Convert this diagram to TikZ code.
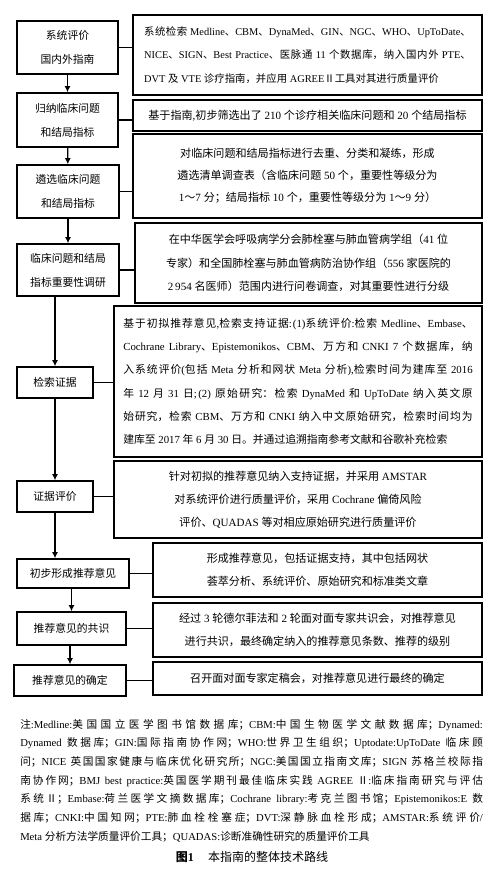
\documentclass[tikz,border=0pt]{standalone}
\usepackage{fontspec}
\setmainfont{Liberation Serif}
\newfontfamily\cjkfont{Noto Sans CJK SC}
\usetikzlibrary{arrows.meta}

\XeTeXinterchartokenstate=1
\chardef\cjkclass=10
\newcount\cjkcode
\def\setcjkrange#1#2{\cjkcode=#1
  \loop\XeTeXcharclass\cjkcode=\cjkclass\advance\cjkcode by 1
  \ifnum\cjkcode<#2\repeat}
\setcjkrange{"2E80}{"A000}
\setcjkrange{"F900}{"FB00}
\setcjkrange{"FF00}{"FFF0}
\setcjkrange{"2160}{"2180}
\XeTeXinterchartoks 0 \cjkclass = {\cjkfont}
\XeTeXinterchartoks 4095 \cjkclass = {\cjkfont}
\XeTeXinterchartoks \cjkclass 0 = {\rmfamily}
\XeTeXinterchartoks \cjkclass 4095 = {\rmfamily}
\XeTeXlinebreaklocale "zh"
\XeTeXlinebreakskip=0pt plus 1pt

\begin{document}
\begin{tikzpicture}[x=0.75pt, y=-0.75pt,
    lbox/.style={draw, line width=1.2pt, align=center, inner sep=0pt, font=\fontsize{8.1pt}{18pt}\selectfont},
    rbox/.style={draw, line width=1.5pt, align=center, inner sep=0pt, font=\fontsize{8.3pt}{17.4pt}\selectfont},
    bsize/.style 2 args={minimum width=#1*0.75pt, minimum height=#2*0.75pt},
    link/.style={line width=0.8pt},
    flow/.style={line width=0.9pt, -{Latex[length=4.5pt,width=4.5pt]}}]
    \useasboundingbox (0,0) rectangle (496,882);
    % steps on the left
    \node[lbox, bsize={101}{53}] (review) at (67.5,47.5) {系统评价\\国内外指南};
    \node[lbox, bsize={101}{54}] (collect) at (67.5,120) {归纳临床问题\\和结局指标};
    \node[lbox, bsize={102}{53}] (select) at (68,191.5) {遴选临床问题\\和结局指标};
    \node[lbox, bsize={102}{52}] (survey) at (68,270) {临床问题和结局\\指标重要性调研};
    \node[lbox, bsize={76}{31}] (search) at (55,382.5) {检索证据};
    \node[lbox, bsize={76}{31}] (appraise) at (55,496.5) {证据评价};
    \node[lbox, bsize={112}{29}] (draft) at (73,573.5) {初步形成推荐意见};
    \node[lbox, bsize={109}{33}] (consensus) at (71.5,628.5) {推荐意见的共识};
    \node[lbox, bsize={112}{31}] (finalize) at (70,680.5) {推荐意见的确定};
    % details on the right
    \node[rbox, bsize={349}{80}, text width=245pt, align=justify, font=\fontsize{7.8pt}{17.6pt}\selectfont] (reviewR) at (307.5,55)
        {系统检索 Medline、CBM、DynaMed、GIN、NGC、WHO、UpToDate、\linebreak
         NICE、SIGN、Best Practice、医脉通 11 个数据库，纳入国内外 PTE、\linebreak
         DVT 及 VTE 诊疗指南，并应用 AGREEⅡ工具对其进行质量评价};
    \node[rbox, bsize={349}{31}] (collectR) at (307.5,115.5) {基于指南,初步筛选出了 210 个诊疗相关临床问题和 20 个结局指标};
    \node[rbox, bsize={349}{84}, font=\fontsize{8.3pt}{16.5pt}\selectfont] (selectR) at (307.5,176)
        {对临床问题和结局指标进行去重、分类和凝练，形成\\
         遴选清单调查表（含临床问题 50 个，重要性等级分为\\
         1～7 分；结局指标 10 个，重要性等级分为 1～9 分）};
    \node[rbox, bsize={347}{80}] (surveyR) at (308.5,263)
        {在中华医学会呼吸病学分会肺栓塞与肺血管病学组（41 位\\
         专家）和全国肺栓塞与肺血管病防治协作组（556 家医院的\\
         2\,954 名医师）范围内进行问卷调查，对其重要性进行分级};
    \node[rbox, bsize={368}{151}, text width=262pt, align=justify, font=\fontsize{8.1pt}{17.5pt}\selectfont] (searchR) at (298,381.5)
        {基于初拟推荐意见,检索支持证据:(1)系统评价:检索 Medline、Embase、\linebreak
         Cochrane Library、Epistemonikos、CBM、万方和 CNKI 7 个数据库，纳\linebreak
         入系统评价(包括 Meta 分析和网状 Meta 分析),检索时间为建库至 2016\linebreak
         年 12 月 31 日;(2) 原始研究：检索 DynaMed 和 UpToDate 纳入英文原\linebreak
         始研究，检索 CBM、万方和 CNKI 纳入中文原始研究，检索时间均为\linebreak
         建库至 2017 年 6 月 30 日。并通过追溯指南参考文献和谷歌补充检索};
    \node[rbox, bsize={368}{77}, font=\fontsize{8.3pt}{17.2pt}\selectfont] (appraiseR) at (298,499.5)
        {针对初拟的推荐意见纳入支持证据，并采用 AMSTAR\\
         对系统评价进行质量评价，采用 Cochrane 偏倚风险\\
         评价、QUADAS 等对相应原始研究进行质量评价};
    \node[rbox, bsize={329}{54}] (draftR) at (317.5,570)
        {形成推荐意见，包括证据支持，其中包括网状\\
         荟萃分析、系统评价、原始研究和标准类文章};
    \node[rbox, bsize={329}{54}] (consensusR) at (317.5,630)
        {经过 3 轮德尔菲法和 2 轮面对面专家共识会，对推荐意见\\
         进行共识，最终确定纳入的推荐意见条数、推荐的级别};
    \node[rbox, bsize={329}{33}] (finalizeR) at (317.5,678.5) {召开面对面专家定稿会，对推荐意见进行最终的确定};
    % arrows down the left column
    \draw[flow] (review) -- (collect);
    \draw[flow] (collect) -- (select);
    \draw[flow] (select) -- (survey);
    \draw[flow] (survey.south -| search.north) -- (search.north);
    \draw[flow] (search) -- (appraise);
    \draw[flow] (appraise.south) -- (appraise.south |- draft.north);
    \draw[flow] (draft.south -| consensus.north) -- (consensus.north);
    \draw[flow] (consensus.south -| finalize.north) -- (finalize.north);
    % links to the details
    \foreach \s in {review, collect, select, survey, search, appraise, draft, consensus, finalize}
        \draw[link] (\s.east) -- (\s.east -| \s R.west);
    % notes and caption
    \node[anchor=north west, inner sep=0pt, text width=347pt, align=justify, font=\fontsize{8pt}{14pt}\selectfont] (notes) at (20,719)
        {注:Medline:美国国立医学图书馆数据库；CBM:中国生物医学文献数据库；Dynamed:\linebreak
         Dynamed 数据库；GIN:国际指南协作网；WHO:世界卫生组织；Uptodate:UpToDate 临床顾\linebreak
         问；NICE 英国国家健康与临床优化研究所；NGC:美国国立指南文库；SIGN 苏格兰校际指\linebreak
         南协作网；BMJ best practice:英国医学期刊最佳临床实践 AGREE Ⅱ:临床指南研究与评估\linebreak
         系统Ⅱ；Embase:荷兰医学文摘数据库；Cochrane library:考克兰图书馆；Epistemonikos:E 数\linebreak
         据库；CNKI:中国知网；PTE:肺血栓栓塞症；DVT:深静脉血栓形成；AMSTAR:系统评价/\linebreak
         Meta 分析方法学质量评价工具；QUADAS:诊断准确性研究的质量评价工具};
    \node[font=\fontsize{9pt}{11pt}\selectfont] (caption) at (252,857) {\textbf{图1}\hspace{1.2em}本指南的整体技术路线};
\end{tikzpicture}
\end{document}
